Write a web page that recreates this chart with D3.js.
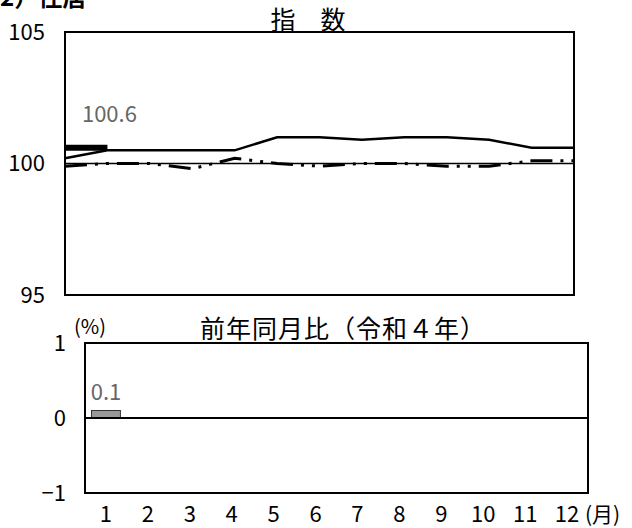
<!DOCTYPE html>
<html>
<head>
<meta charset="utf-8">
<script src="https://cdn.jsdelivr.net/npm/d3@7"></script>
<style>
  body { margin: 0; background: #fff; }
  text { font-family: "Noto Sans CJK JP", "Noto Sans", sans-serif; }
</style>
</head>
<body>
<div id="chart"></div>
<script>
// index chart: position 0 = previous December, 1..12 = months
var positions = [0, 1, 2, 3, 4, 5, 6, 7, 8, 9, 10, 11, 12];
var indexR2 = [99.9, 100.0, 100.0, 99.8, 100.2, 100.0, 99.9, 100.0, 100.0, 99.9, 99.9, 100.1, 100.1];
var indexR3 = [100.2, 100.5, 100.5, 100.5, 100.5, 101.0, 101.0, 100.9, 101.0, 101.0, 100.9, 100.6, 100.6];
var indexR4 = [100.6, 100.6];
var indexTicks = [95, 100, 105];

// year-on-year change (%)
var months = [1, 2, 3, 4, 5, 6, 7, 8, 9, 10, 11, 12];
var yoyR4 = [0.1];
var yoyTicks = [-1, 0, 1];

var w = 632;
var h = 528;

var svg = d3.select("#chart")
    .append("svg")
    .attr("width", w)
    .attr("height", h);

//Section heading (cut off at the top)
svg.append("text")
    .attr("x", 0)
    .attr("y", 6)
    .attr("font-size", "24px")
    .attr("font-weight", "bold")
    .attr("fill", "black")
    .text("2）住居");

// ---------- top panel ----------
var idxBox = { left: 65, right: 574, top: 32, bottom: 295 };

var xIdx = d3.scaleLinear()
    .domain([0, 12])
    .range([idxBox.left, idxBox.right]);

var yIdx = d3.scaleLinear()
    .domain([95, 105])
    .range([idxBox.bottom, idxBox.top]);

svg.append("text")
    .attr("x", 308)
    .attr("y", 29)
    .attr("text-anchor", "middle")
    .attr("font-size", "25px")
    .text("指　数");

//Base line at 100
svg.append("line")
    .attr("x1", idxBox.left)
    .attr("x2", idxBox.right)
    .attr("y1", yIdx(100))
    .attr("y2", yIdx(100))
    .attr("stroke", "black")
    .attr("stroke-width", 1.5);

var line = d3.line()
    .x(function (d, i) { return xIdx(positions[i]); })
    .y(function (d) { return yIdx(d); });

svg.append("path")
    .datum(indexR2)
    .attr("d", line)
    .attr("fill", "none")
    .attr("stroke", "black")
    .attr("stroke-width", 3)
    .attr("stroke-dasharray", "22,8,3,8,3,8");

svg.append("path")
    .datum(indexR3)
    .attr("d", line)
    .attr("fill", "none")
    .attr("stroke", "black")
    .attr("stroke-width", 2.5);

svg.append("path")
    .datum(indexR4)
    .attr("d", line)
    .attr("fill", "none")
    .attr("stroke", "black")
    .attr("stroke-width", 6);

svg.append("text")
    .attr("x", xIdx(positions[indexR4.length - 1]) + 2)
    .attr("y", yIdx(indexR4[indexR4.length - 1]) - 26)
    .attr("text-anchor", "middle")
    .attr("font-size", "22px")
    .attr("fill", "#666")
    .text(indexR4[indexR4.length - 1].toFixed(1));

svg.append("rect")
    .attr("x", idxBox.left)
    .attr("y", idxBox.top)
    .attr("width", idxBox.right - idxBox.left)
    .attr("height", idxBox.bottom - idxBox.top)
    .attr("fill", "none")
    .attr("stroke", "black")
    .attr("stroke-width", 2);

var yAxisIdx = d3.axisLeft(yIdx)
    .tickValues(indexTicks)
    .tickSize(0)
    .tickPadding(20);

svg.append("g")
    .attr("class", "y axis")
    .attr("transform", "translate(" + idxBox.left + ",0)")
    .call(yAxisIdx)
    .call(function (g) { g.select(".domain").remove(); })
    .selectAll("text")
    .attr("font-family", "'Noto Sans CJK JP', sans-serif")
    .attr("font-size", "22px")
    .attr("fill", "black");

// ---------- bottom panel ----------
var yoyBox = { left: 85, right: 588, top: 343, bottom: 493 };

var xMon = d3.scaleBand()
    .domain(months)
    .range([yoyBox.left, yoyBox.right])
    .paddingInner(0.31)
    .paddingOuter(0.155);

var yYoy = d3.scaleLinear()
    .domain([-1, 1])
    .range([yoyBox.bottom, yoyBox.top]);

svg.append("text")
    .attr("x", 343)
    .attr("y", 338)
    .attr("text-anchor", "middle")
    .attr("font-size", "25px")
    .attr("letter-spacing", "1px")
    .text("前年同月比（令和４年）");

svg.append("text")
    .attr("x", 74)
    .attr("y", 334)
    .attr("font-size", "20px")
    .text("(%)");

svg.selectAll("rect.bar")
    .data(yoyR4)
    .enter()
    .append("rect")
    .attr("class", "bar")
    .attr("x", function (d, i) { return xMon(months[i]); })
    .attr("y", function (d) { return yYoy(Math.max(0, d)); })
    .attr("width", xMon.bandwidth())
    .attr("height", function (d) { return Math.abs(yYoy(d) - yYoy(0)); })
    .attr("fill", "#999")
    .attr("stroke", "#333")
    .attr("stroke-width", 1);

svg.selectAll("text.barlabel")
    .data(yoyR4)
    .enter()
    .append("text")
    .attr("class", "barlabel")
    .attr("x", function (d, i) { return xMon(months[i]) + xMon.bandwidth() / 2; })
    .attr("y", function (d) { return yYoy(d) - 11; })
    .attr("text-anchor", "middle")
    .attr("font-size", "22px")
    .attr("fill", "#666")
    .text(function (d) { return d.toFixed(1); });

//Zero line
svg.append("line")
    .attr("x1", yoyBox.left)
    .attr("x2", yoyBox.right)
    .attr("y1", yYoy(0))
    .attr("y2", yYoy(0))
    .attr("stroke", "black")
    .attr("stroke-width", 2);

svg.append("rect")
    .attr("x", yoyBox.left)
    .attr("y", yoyBox.top)
    .attr("width", yoyBox.right - yoyBox.left)
    .attr("height", yoyBox.bottom - yoyBox.top)
    .attr("fill", "none")
    .attr("stroke", "black")
    .attr("stroke-width", 2);

var yAxisYoy = d3.axisLeft(yYoy)
    .tickValues(yoyTicks)
    .tickSize(0)
    .tickPadding(19)
    .tickFormat(function (d) { return d < 0 ? "−" + Math.abs(d) : d; });

svg.append("g")
    .attr("class", "y axis")
    .attr("transform", "translate(" + yoyBox.left + ",0)")
    .call(yAxisYoy)
    .call(function (g) { g.select(".domain").remove(); })
    .selectAll("text")
    .attr("font-family", "'Noto Sans CJK JP', sans-serif")
    .attr("font-size", "22px")
    .attr("fill", "black");

var xAxisMon = d3.axisBottom(xMon)
    .tickSize(0)
    .tickPadding(13);

svg.append("g")
    .attr("class", "x axis")
    .attr("transform", "translate(0," + yoyBox.bottom + ")")
    .call(xAxisMon)
    .call(function (g) { g.select(".domain").remove(); })
    .selectAll("text")
    .attr("font-family", "'Noto Sans CJK JP', sans-serif")
    .attr("font-size", "22px")
    .attr("fill", "black");

svg.append("text")
    .attr("x", 585)
    .attr("y", 522)
    .attr("font-size", "21px")
    .text("(月)");
</script>
</body>
</html>
